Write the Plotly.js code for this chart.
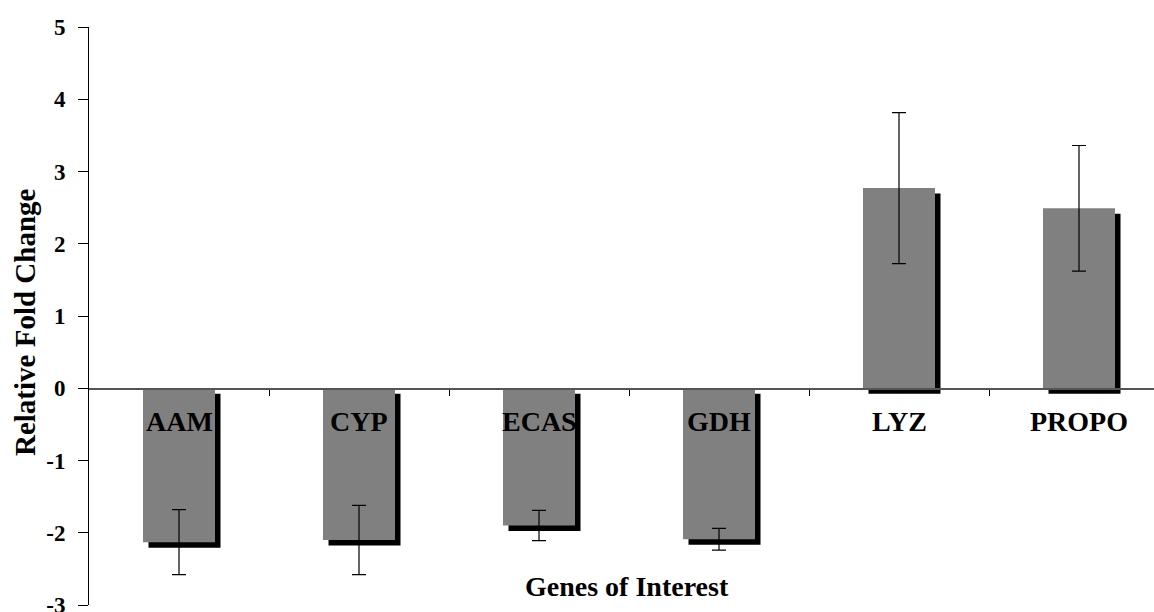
<!DOCTYPE html>
<html>
<head>
<meta charset="utf-8">
<script src="https://cdn.plot.ly/plotly-3.0.1.min.js"></script>
<style>html,body{margin:0;padding:0;background:#fff;}#chart{width:1154px;height:612px;}</style>
</head>
<body>
<div id="chart"></div>
<script>
// ---- data ----
const categories = ["AAM", "CYP", "ECAS", "GDH", "LYZ", "PROPO"];
const foldChange = [-2.13, -2.10, -1.90, -2.09, 2.77, 2.49];
const errorHalf = [0.45, 0.48, 0.21, 0.15, 1.045, 0.87];
const yTicks = [-3, -2, -1, 0, 1, 2, 3, 4, 5];
const yTitle = "Relative Fold Change";
const xTitle = "Genes of Interest";

// ---- layout constants ----
const W = 1154, H = 612;
const mL = 89, mR = 0, mT = 27, mB = 7;
const plotW = W - mL - mR, plotH = H - mT - mB;
const yMin = -3, yMax = 5;
const pxPerUnitY = plotH / (yMax - yMin);
const pxPerCat = 180;
const xMax = -0.5 + plotW / pxPerCat;
const barW = 0.4;
const shadowPx = 5.5;
const serif = "Liberation Serif, Times New Roman, serif";

const xIdx = categories.map((c, i) => i);

const shadow = {
  type: "bar",
  x: xIdx,
  y: foldChange,
  base: foldChange.map(() => -shadowPx / pxPerUnitY),
  width: barW,
  offset: -barW / 2 + shadowPx / pxPerCat,
  marker: {color: "#000000", line: {width: 0}},
  hoverinfo: "skip",
  showlegend: false
};

const bars = {
  type: "bar",
  x: xIdx,
  y: foldChange,
  width: barW,
  offset: -barW / 2,
  marker: {color: "#808080", line: {width: 0}},
  error_y: {type: "data", array: errorHalf, visible: true, color: "#000000", thickness: 1.2, width: 7},
  showlegend: false
};

const annotations = categories.map((c, i) => ({
  x: i, y: -33 / pxPerUnitY, xref: "x", yref: "y",
  text: c, showarrow: false, xanchor: "center", yanchor: "middle",
  font: {family: serif, size: 28, color: "#000", weight: "bold"}
}));
annotations.push({
  x: (627 - mL) / plotW, y: (605 - 586) / plotH, xref: "paper", yref: "paper",
  text: xTitle, showarrow: false, xanchor: "center", yanchor: "middle",
  font: {family: serif, size: 28, color: "#000", weight: "bold"}
});
annotations.push({
  x: (25 - mL) / plotW, y: (605 - 322) / plotH, xref: "paper", yref: "paper",
  text: yTitle, showarrow: false, textangle: -90, xanchor: "center", yanchor: "middle",
  font: {family: serif, size: 29, color: "#000", weight: "bold"}
});

const layout = {
  width: W, height: H,
  margin: {l: mL, r: mR, t: mT, b: mB, pad: 0},
  paper_bgcolor: "#ffffff", plot_bgcolor: "#ffffff",
  barmode: "overlay",
  showlegend: false,
  xaxis: {
    type: "linear",
    range: [-0.5, xMax],
    anchor: "free",
    position: (0 - yMin) / (yMax - yMin),
    showline: true, linecolor: "#555555", linewidth: 1.5,
    ticks: "outside", ticklen: 6, tickcolor: "#000", tickwidth: 1,
    tickmode: "array",
    tickvals: categories.slice(1).map((c, i) => i + 0.5),
    showticklabels: false,
    showgrid: false, zeroline: false
  },
  yaxis: {
    range: [yMin, yMax],
    showline: true, linecolor: "#000", linewidth: 1,
    ticks: "outside", ticklen: 10, tickcolor: "#000", tickwidth: 1,
    tickmode: "array", tickvals: yTicks,
    ticktext: yTicks.map(v => String(v)),
    tickfont: {family: serif, size: 23, color: "#000", weight: "bold"},
    ticklabelstandoff: 8,
    ticklabeloverflow: "allow",
    showgrid: false, zeroline: false
  },
  annotations: annotations
};

Plotly.newPlot("chart", [shadow, bars], layout, {displayModeBar: false, staticPlot: true});
</script>
</body>
</html>
